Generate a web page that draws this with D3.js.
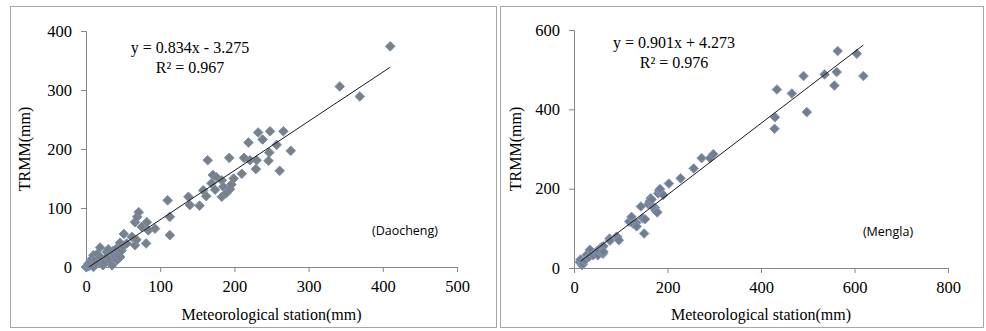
<!DOCTYPE html>
<html><head><meta charset="utf-8">
<script src="https://cdn.jsdelivr.net/npm/d3@7"></script>
<style>body{margin:0;background:#fff;} svg{display:block;} .serif{font-family:"Liberation Serif","Times New Roman",serif;}</style>
</head><body>
<svg id="c" width="986" height="331"></svg>
<script>
// Daocheng panel data [station, TRMM] (mm)
const daochengX = [0,2,3,4,5,6,8,10,10,12,14,15,19,19,23,25,28,28,30,32,35,36,37,39,41,42,44,46,46,48,50,51,55,62,66,66,68,69,71,75,81,82,84,93,110,113,113,138,140,153,158,162,164,169,171,174,176,183,183,185,189,193,194,196,199,210,213,219,221,229,230,232,238,246,247,248,257,261,266,276,342,369,410];
const daochengY = [0,1,5,2,3,8,14,20,0,12,6,22,33,17,3,8,25,17,30,11,3,27,23,17,31,12,20,41,17,28,35,56,40,51,37,76,46,85,93,68,40,76,62,65,113,85,54,119,105,104,130,120,181,142,156,131,152,147,119,136,125,185,132,140,150,158,185,211,181,166,181,228,216,180,194,230,207,163,230,197,306,289,374];
// Mengla panel data
const menglaX = [12,14,17,19,23,27,32,34,41,48,51,52,59,62,63,63,76,77,91,93,96,118,123,126,133,134,143,147,150,152,159,162,164,166,169,173,174,177,178,180,182,184,191,203,228,256,273,291,298,429,430,434,466,491,498,536,557,562,564,605,619];
const menglaY = [15,21,7,10,19,33,28,46,32,41,32,45,53,36,55,41,74,69,79,78,70,117,129,112,114,105,155,125,87,123,161,168,176,173,154,152,146,142,140,188,195,199,184,213,226,251,277,277,287,351,380,450,440,484,393,488,460,494,547,540,484];

const xTicksL = [0,100,200,300,400,500];
const yTicksL = [0,100,200,300,400];
const xTicksR = [0,200,400,600,800];
const yTicksR = [0,200,400,600];
const fitL = {slope:0.834, intercept:-3.275, from:4, to:410, eq:"y = 0.834x - 3.275", r2:"R² = 0.967", site:"(Daocheng)"};
const fitR = {slope:0.901, intercept:4.273, from:14, to:619, eq:"y = 0.901x + 4.273", r2:"R² = 0.976", site:"(Mengla)"};
const xTitle = "Meteorological station(mm)";
const yTitle = "TRMM(mm)";

const svg = d3.select("#c");
const SERIF = '"Liberation Serif","Times New Roman",serif';

function panel(cfg){
  const g = svg.append("g");
  g.append("rect").attr("x",cfg.frame[0]).attr("y",cfg.frame[1]).attr("width",cfg.frame[2]).attr("height",cfg.frame[3])
    .attr("fill","#fff").attr("stroke","#a6a6a6").attr("stroke-width",1);
  const x = d3.scaleLinear().domain(d3.extent(cfg.xTicks)).range([cfg.x0,cfg.x1]);
  const y = d3.scaleLinear().domain(d3.extent(cfg.yTicks)).range([cfg.y0,cfg.y1]);
  const xa = g.append("g").attr("transform",`translate(0,${cfg.y0})`)
    .call(d3.axisBottom(x).tickValues(cfg.xTicks).tickSize(5).tickPadding(8));
  const ya = g.append("g").attr("transform",`translate(${cfg.x0},0)`)
    .call(d3.axisLeft(y).tickValues(cfg.yTicks).tickSize(5).tickPadding(9));
  [xa,ya].forEach(a=>{
    a.attr("font-family",null).attr("font-size",null);
    a.selectAll("path,line").attr("stroke","#868686").attr("stroke-width",1);
    a.selectAll("text").style("font-family",SERIF).style("font-size","16.5px").attr("fill","#000");
  });
  const pts = cfg.xs.map((v,i)=>[v,cfg.ys[i]]);
  const s = 4.8;
  g.append("g").selectAll("path").data(pts).join("path")
    .attr("transform",d=>`translate(${x(d[0])},${y(d[1])})`)
    .attr("d",`M0,${-s}L${s},0L0,${s}L${-s},0Z`)
    .attr("fill",cfg.fill).attr("stroke",cfg.edge).attr("stroke-width",1);
  const f = cfg.fit;
  g.append("line").attr("x1",x(f.from)).attr("y1",y(f.slope*f.from+f.intercept))
    .attr("x2",x(f.to)).attr("y2",y(f.slope*f.to+f.intercept))
    .attr("stroke","#1a1a1a").attr("stroke-width",1);
  g.append("text").attr("x",cfg.eqX).attr("y",cfg.eqY).attr("text-anchor","middle")
    .style("font-family",SERIF).style("font-size","16px").text(f.eq);
  g.append("text").attr("x",cfg.eqX).attr("y",cfg.eqY+20).attr("text-anchor","middle")
    .style("font-family",SERIF).style("font-size","16px").text(f.r2);
  g.append("text").attr("x",cfg.siteX).attr("y",cfg.siteY).attr("text-anchor","middle")
    .style("font-family","Open Sans").style("font-size","12.5px").text(f.site);
  g.append("text").attr("x",(cfg.x0+cfg.x1)/2).attr("y",320).attr("text-anchor","middle")
    .style("font-family",SERIF).style("font-size","16px").text(xTitle);
  g.append("text").attr("transform",`translate(${cfg.ytX},${(cfg.y0+cfg.y1)/2}) rotate(-90)`).attr("text-anchor","middle")
    .style("font-family",SERIF).style("font-size","16px").text(yTitle);
}

panel({frame:[10.5,6.5,486,321], xTicks:xTicksL, yTicks:yTicksL, x0:86, x1:457, y0:267, y1:31,
  xs:daochengX, ys:daochengY, fit:fitL, fill:"#7f7f7f", edge:"#6d93c8",
  eqX:190, eqY:53, siteX:405, siteY:235, ytX:30});
panel({frame:[500.5,6.5,483,321], xTicks:xTicksR, yTicks:yTicksR, x0:574, x1:948, y0:268, y1:30,
  xs:menglaX, ys:menglaY, fit:fitR, fill:"#717e92", edge:"#8a9cb8",
  eqX:674, eqY:48, siteX:888, siteY:236, ytX:521});
</script>
</body></html>
